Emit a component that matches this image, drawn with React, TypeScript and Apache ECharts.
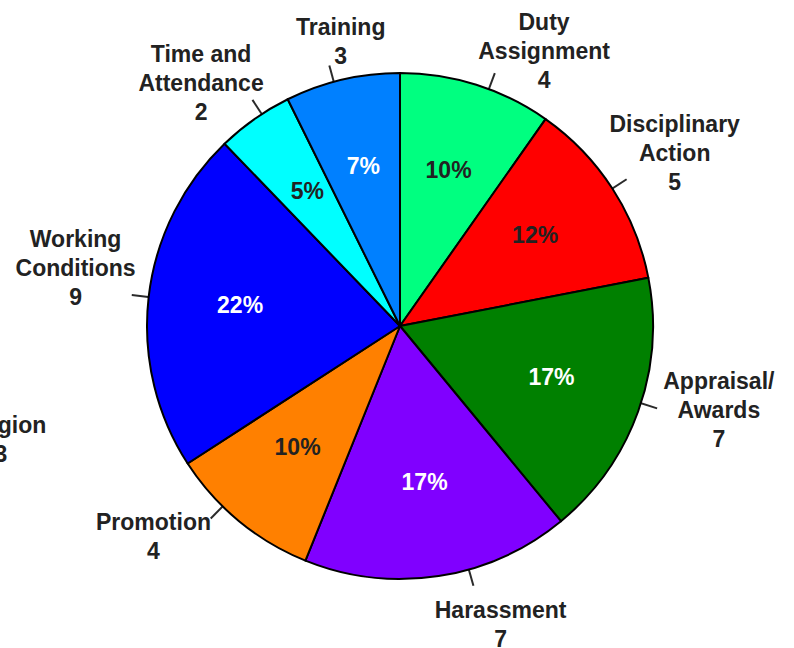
import React, { useEffect, useRef } from 'react';
import * as echarts from 'echarts';

// ---- data ----
const categories = [
  'Duty\nAssignment',
  'Disciplinary\nAction',
  'Appraisal/\nAwards',
  'Harassment',
  'Promotion',
  'Working\nConditions',
  'Time and\nAttendance',
  'Training',
];
const counts = [4, 5, 7, 7, 4, 9, 2, 3];
const sliceColors = ['#00FF80', '#FF0000', '#008000', '#8000FF', '#FF8000', '#0000FF', '#00FFFF', '#0080FF'];
const percentTextColors = ['#222222', '#222222', '#FFFFFF', '#FFFFFF', '#222222', '#FFFFFF', '#222222', '#FFFFFF'];
const offChartCategory = 'Religion';
const offChartCount = 3;

// ---- layout constants ----
const CX = 400;
const CY = 326;
const R = 253;
const FONT = '"Liberation Sans", Arial, Helvetica, sans-serif';
const FS = 23;
const LH = 29;
const TEXT_DARK = '#222222';
// label placement nudges (degrees) used to mimic the reference's label arrangement
const tickAngleShift = [3, 0, -2, -7, 5, 0, 2, -2];
const labelAngleShift = [8.5, -1, -4.5, -8, 7.5, 4, -2.5, 2];
const PCT_DIST = 161;
const PCT_LIFT = 3;

const total = counts.reduce((a, b) => a + b, 0);
const midAngles: number[] = [];
{
  let cum = 0;
  counts.forEach((v) => {
    midAngles.push(((cum + v / 2) / total) * 360);
    cum += v;
  });
}
const dir = (deg: number): [number, number] => {
  const t = (deg * Math.PI) / 180;
  return [Math.sin(t), -Math.cos(t)];
};
const labelDist = (deg: number) => 272 - 11 * Math.cos((deg * Math.PI) / 180);

let measureCtx: CanvasRenderingContext2D | null = null;
const measure = (s: string) => {
  if (!measureCtx) {
    measureCtx = document.createElement('canvas').getContext('2d');
  }
  if (!measureCtx) return s.length * FS * 0.6;
  measureCtx.font = `bold ${FS}px ${FONT}`;
  return measureCtx.measureText(s).width;
};

export default function App() {
  const ref = useRef<HTMLDivElement>(null);

  useEffect(() => {
    document.body.style.margin = '0';
    if (!ref.current) return;
    const chart = echarts.init(ref.current, undefined, { renderer: 'svg' });

    const data = categories.map((name, i) => ({ name, value: counts[i] }));

    const option: any = {
      animation: false,
      backgroundColor: '#FFFFFF',
      series: [
        {
          type: 'pie',
          center: [CX, CY],
          radius: R,
          startAngle: 90,
          clockwise: true,
          percentPrecision: 0,
          silent: true,
          avoidLabelOverlap: false,
          itemStyle: { borderColor: '#000000', borderWidth: 2 },
          data: data.map((d, i) => ({
            ...d,
            itemStyle: { color: sliceColors[i] },
            label: { color: percentTextColors[i] },
          })),
          label: {
            show: true,
            position: 'inside',
            formatter: '{d}%',
            fontFamily: FONT,
            fontWeight: 'bold',
            fontSize: FS,
          },
          labelLine: { show: false },
          labelLayout: (p: any) => {
            const [dx, dy] = dir(midAngles[p.dataIndex]);
            return {
              x: CX + dx * PCT_DIST,
              y: CY + dy * PCT_DIST - PCT_LIFT,
              align: 'center',
              verticalAlign: 'middle',
            };
          },
        },
        {
          type: 'pie',
          center: [CX, CY],
          radius: R,
          startAngle: 90,
          clockwise: true,
          silent: true,
          itemStyle: { color: 'rgba(0,0,0,0)', borderWidth: 0 },
          data,
          label: {
            show: true,
            position: 'outside',
            formatter: '{b}\n{c}',
            fontFamily: FONT,
            fontWeight: 'bold',
            fontSize: FS,
            lineHeight: LH,
            color: TEXT_DARK,
            width: 320,
            overflow: 'none',
          },
          labelLine: {
            show: true,
            length: 17,
            length2: 0,
            lineStyle: { color: '#2a2a2a', width: 2 },
          },
          labelLayout: (p: any) => {
            const i = p.dataIndex;
            const ta = midAngles[i] + tickAngleShift[i];
            const la = midAngles[i] + labelAngleShift[i];
            const [tx, ty] = dir(ta);
            const [lx, ly] = dir(la);
            const lines = categories[i].split('\n').concat(String(counts[i]));
            const w = Math.max(...lines.map(measure));
            const h = lines.length * LH;
            const d = labelDist(la);
            const x = CX + lx * d + (lx * w) / 2;
            const y = CY + ly * d + (ly * h) / 2;
            const p0 = [CX + tx * (R - 8), CY + ty * (R - 8)];
            const p1 = [CX + tx * (R + 17), CY + ty * (R + 17)];
            return {
              x,
              y,
              align: 'center',
              verticalAlign: 'middle',
              width: 320,
              labelLinePoints: [p0, p1, p1],
            };
          },
        },
      ],
      graphic: [
        {
          type: 'text',
          x: 1,
          y: 439,
          silent: true,
          style: {
            text: `${offChartCategory}\n${offChartCount}`,
            fontFamily: FONT,
            fontWeight: 'bold',
            fontSize: FS,
            lineHeight: LH,
            fill: TEXT_DARK,
            align: 'center',
            verticalAlign: 'middle',
          },
        },
      ],
    };

    chart.setOption(option);
    return () => {
      chart.dispose();
    };
  }, []);

  return <div ref={ref} style={{ width: 794, height: 648 }} />;
}
